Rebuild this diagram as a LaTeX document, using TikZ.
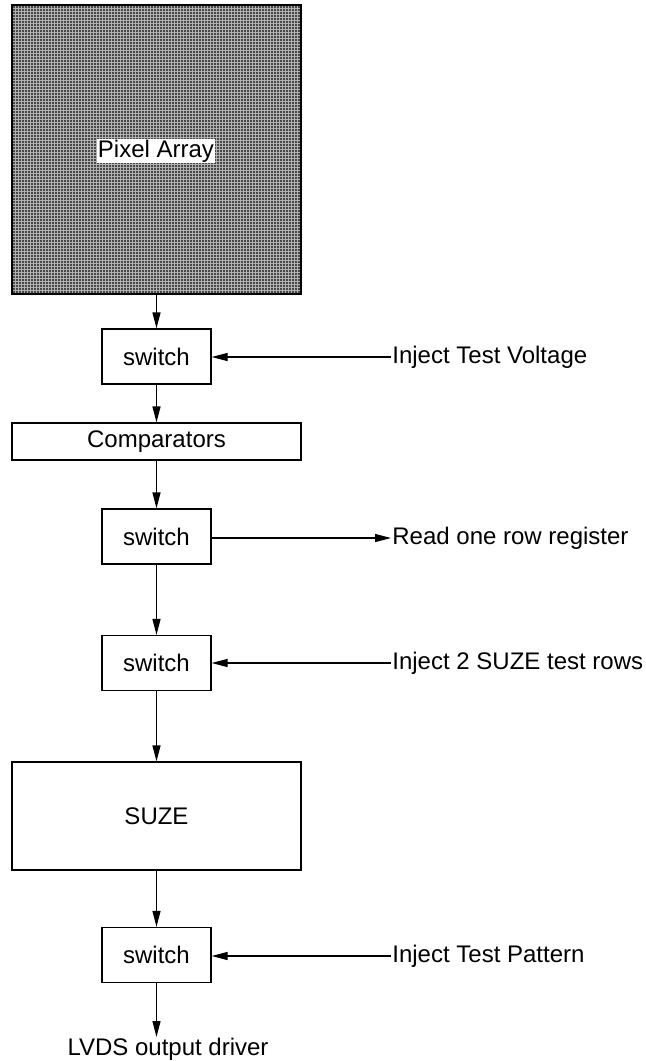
\documentclass[tikz,border=0pt]{standalone}
\usepackage{fontspec}
\setmainfont{Liberation Sans}
\usetikzlibrary{arrows.meta}

\begin{document}
\begin{tikzpicture}[x=0.5pt, y=-0.5pt, font=\fontsize{12pt}{14pt}\selectfont]
\useasboundingbox (0,0) rectangle (645,1061);
\tikzset{every node/.style={draw, line width=0.6pt, inner sep=0pt}}
\tikzset{sw/.style={minimum width=54.5pt, minimum height=27.5pt}}
\tikzset{wide/.style={minimum width=144.5pt}}
\node[line width=1pt, wide, minimum height=144.5pt, fill=black!72,
  path picture={\draw[white!70!black, line width=0.4pt, step=1.5pt]
  (path picture bounding box.south west) grid (path picture bounding box.north east);}] (pix) at (156.5, 149.5) {};
\node[draw=none, fill=white, inner sep=0.6pt] (pixlbl) at (156, 151) {Pixel Array};
\node[sw] (sw1) at (156.5, 356.5) {switch};
\node[wide, minimum height=18.5pt] (cmp) at (156.5, 441.5) {Comparators};
\node[sw] (sw2) at (156.5, 536.5) {switch};
\node[sw] (sw3) at (156.5, 663.0) {switch};
\node[wide, minimum height=54pt] (suze) at (156.5, 816.0) {SUZE};
\node[sw] (sw4) at (156.5, 955.0) {switch};

\tikzset{every node/.style={inner sep=0.5pt}}
\node[anchor=west] (tv) at (391, 357) {Inject Test Voltage};
\node[anchor=west] (rr) at (391, 538) {Read one row register};
\node[anchor=west] (tr) at (391, 663) {Inject 2 SUZE test rows};
\node[anchor=west] (tp) at (391, 956) {Inject Test Pattern};
\node[anchor=north] (lvds) at (168, 1037) {LVDS output driver};

\tikzset{mystyle/.style={-{Triangle[length=8pt,width=4pt]}, line width=0.6pt}}
\path (pix) edge [mystyle] (sw1);
\path (sw1) edge [mystyle] (cmp);
\path (cmp) edge [mystyle] (sw2);
\path (sw2) edge [mystyle] (sw3);
\path (sw3) edge [mystyle] (suze);
\path (suze) edge [mystyle] (sw4);
\path (sw4) edge [mystyle] (sw4.south |- lvds.north);

\path (tv.west) edge [mystyle] (sw1.east |- tv.west);
\path (sw2.east |- rr.west) edge [mystyle] (rr.west);
\path (tr.west) edge [mystyle] (sw3.east |- tr.west);
\path (tp.west) edge [mystyle] (sw4.east |- tp.west);
\end{tikzpicture}
\end{document}
